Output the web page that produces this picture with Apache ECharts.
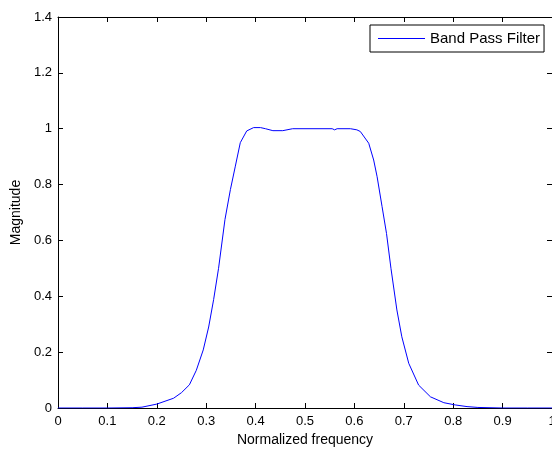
<!DOCTYPE html>
<html>
<head>
<meta charset="utf-8">
<script src="https://cdn.jsdelivr.net/npm/echarts@6/dist/echarts.min.js"></script>
<style>
  html, body { margin: 0; padding: 0; background: #ffffff; }
  #chart { width: 552px; height: 450px; }
</style>
</head>
<body>
<div id="chart"></div>
<script>
// Band pass filter magnitude response sampled over normalized frequency
const freq = [
  0, 0.05, 0.10, 0.15, 0.17, 0.20, 0.234, 0.250, 0.266, 0.280,
  0.294, 0.305, 0.315, 0.325, 0.338, 0.349, 0.359, 0.369, 0.382, 0.396,
  0.410, 0.420, 0.435, 0.455, 0.475, 0.555, 0.560, 0.565, 0.592, 0.605,
  0.612, 0.629, 0.639, 0.646, 0.656, 0.665, 0.674, 0.686, 0.696, 0.710,
  0.730, 0.754, 0.781, 0.804, 0.828, 0.850, 0.900, 0.950, 1.0
];
const magnitude = [
  0, 0, 0, 0.001, 0.003, 0.014, 0.035, 0.055, 0.083, 0.135,
  0.208, 0.290, 0.388, 0.500, 0.675, 0.782, 0.866, 0.950, 0.992, 1.004,
  1.004, 1.0, 0.993, 0.993, 1.0, 1.0, 0.996, 1.0, 1.0, 0.996,
  0.990, 0.948, 0.888, 0.828, 0.721, 0.625, 0.500, 0.351, 0.255, 0.160,
  0.082, 0.040, 0.019, 0.011, 0.005, 0.002, 0, 0, 0
];
const seriesName = 'Band Pass Filter';
const xTicks = [0, 0.1, 0.2, 0.3, 0.4, 0.5, 0.6, 0.7, 0.8, 0.9, 1];
const yTicks = [0, 0.2, 0.4, 0.6, 0.8, 1, 1.2, 1.4];

const points = freq.map((f, i) => [f, magnitude[i]]);
const fontFamily = '"Liberation Sans", Arial, sans-serif';
const fmt = v => String(+(+v).toFixed(1));

// Box-style axes: every side has a line with ticks pointing into the plot
const axisLine = { show: true, onZero: false, lineStyle: { color: '#000', width: 1 } };
const tickIn = { show: true, inside: true, length: 5, lineStyle: { color: '#000', width: 1 } };

const chart = echarts.init(document.getElementById('chart'), null, { renderer: 'canvas' });
chart.setOption({
  animation: false,
  backgroundColor: '#ffffff',
  grid: { left: 58, right: 0, top: 17, bottom: 42, containLabel: false, outerBoundsMode: 'none' },
  legend: {
    data: [seriesName],
    left: 370,
    top: 25,
    padding: [6, 4, 6, 8],
    backgroundColor: '#ffffff',
    borderColor: '#000',
    borderWidth: 1,
    borderRadius: 0,
    icon: 'rect',
    itemWidth: 47,
    itemHeight: 1,
    itemGap: 0,
    textStyle: { fontFamily, fontSize: 15, color: '#000' }
  },
  xAxis: [
    {
      type: 'value', position: 'bottom',
      min: xTicks[0], max: xTicks[xTicks.length - 1], interval: 0.1,
      name: 'Normalized frequency', nameLocation: 'middle', nameGap: 25,
      nameTextStyle: { fontFamily, fontSize: 14, color: '#000' },
      axisLine, axisTick: tickIn,
      axisLabel: { fontFamily, fontSize: 13, color: '#000', margin: 7, formatter: fmt },
      splitLine: { show: false }
    },
    {
      type: 'value', position: 'top',
      min: xTicks[0], max: xTicks[xTicks.length - 1], interval: 0.1,
      axisLine, axisTick: tickIn,
      axisLabel: { show: false }, splitLine: { show: false }
    }
  ],
  yAxis: [
    {
      type: 'value', position: 'left',
      min: yTicks[0], max: yTicks[yTicks.length - 1], interval: 0.2,
      name: 'Magnitude', nameLocation: 'middle', nameGap: 34,
      nameTextStyle: { fontFamily, fontSize: 14, color: '#000' },
      axisLine, axisTick: tickIn,
      axisLabel: { fontFamily, fontSize: 13, color: '#000', margin: 6, formatter: fmt },
      splitLine: { show: false }
    },
    {
      type: 'value', position: 'right',
      min: yTicks[0], max: yTicks[yTicks.length - 1], interval: 0.2,
      axisLine, axisTick: tickIn,
      axisLabel: { show: false }, splitLine: { show: false }
    }
  ],
  series: [
    {
      name: seriesName,
      type: 'line',
      xAxisIndex: 0, yAxisIndex: 0,
      data: points,
      showSymbol: false,
      symbol: 'none',
      smooth: false,
      color: '#0000ff',
      lineStyle: { color: '#0000ff', width: 1 },
      z: 5
    }
  ]
});
</script>
</body>
</html>
